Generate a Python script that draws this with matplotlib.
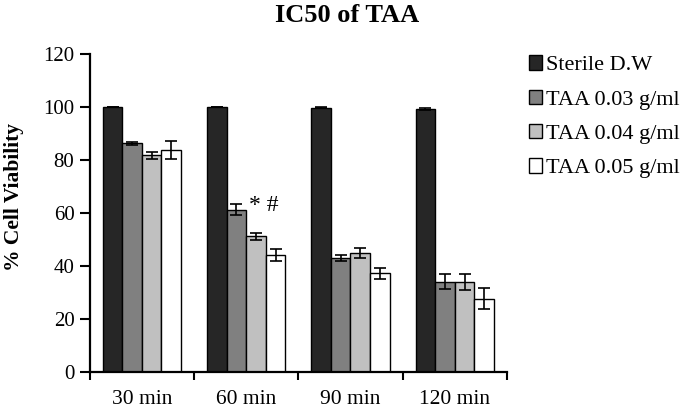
"""IC50 of TAA bar chart"""
import numpy as np
import matplotlib
matplotlib.use("Agg")
import matplotlib.pyplot as plt

plt.rcParams['font.family'] = ['Liberation Serif', 'DejaVu Serif']

times = ["30 min", "60 min", "90 min", "120 min"]
series = ["Sterile D.W", "TAA 0.03 g/ml", "TAA 0.04 g/ml", "TAA 0.05 g/ml"]
sterile = [100, 100, 99.7, 99.3]
taa_003 = [86.2, 61.2, 42.9, 34.1]
taa_004 = [81.7, 51.1, 44.8, 33.8]
taa_005 = [83.7, 44.2, 37.2, 27.6]
err_sterile = [0.1, 0.1, 0.2, 0.3]
err_003 = [0.4, 2.0, 1.2, 2.8]
err_004 = [1.2, 1.5, 1.8, 3.0]
err_005 = [3.5, 2.2, 2.2, 4.0]

values = [sterile, taa_003, taa_004, taa_005]
errors = [err_sterile, err_003, err_004, err_005]
colors = ["#262626", "#808080", "#c0c0c0", "#ffffff"]

fig = plt.figure(figsize=(6.85, 4.11), dpi=100)
ax = fig.add_axes([0.131, 0.095, 0.609, 0.774])

x = np.arange(len(times))
w = 0.1875
for i, (vals, errs, c, lab) in enumerate(zip(values, errors, colors, series)):
    pos = x + (i - 1.5) * w
    ax.bar(pos, vals, w, color=c, edgecolor="black", linewidth=1.0, label=lab,
           yerr=errs, capsize=4, error_kw=dict(elinewidth=1.2, capthick=1.2, ecolor="black"))

# significance marks at 60 min
ax.text(x[1] + 0.03, 60.8, "* #", ha="left", va="baseline", fontsize=17)

ax.set_xlim(-0.5, len(times) - 0.5)
ax.set_ylim(0, 120)
ax.set_yticks(np.arange(0, 121, 20))
ax.set_xticks(x)
ax.set_xticklabels(times)
ax.set_xticks(np.arange(-0.5, len(times), 1.0), minor=True)
ax.tick_params(axis="x", which="major", length=0, labelsize=15.5, pad=13)
ax.tick_params(axis="x", which="minor", length=6, width=1.5, direction="out")
ax.tick_params(axis="y", length=7, width=1.5, direction="out", labelsize=15, pad=4)
for s in ["top", "right"]:
    ax.spines[s].set_visible(False)
for s in ["left", "bottom"]:
    ax.spines[s].set_linewidth(1.6)

ax.set_ylabel("% Cell Viability", fontsize=15.5, fontweight="bold")
ax.yaxis.set_label_coords(-0.158, 0.55)
fig.text(0.507, 0.962, "IC50 of TAA", ha="center", va="center", fontsize=19, fontweight="bold")

ax.legend(loc="upper left", bbox_to_anchor=(1.005, 1.058), frameon=False, fontsize=16,
          handlelength=0.6, handleheight=0.6, handletextpad=0.15, labelspacing=0.65)

fig.savefig("out.png", dpi=100)
